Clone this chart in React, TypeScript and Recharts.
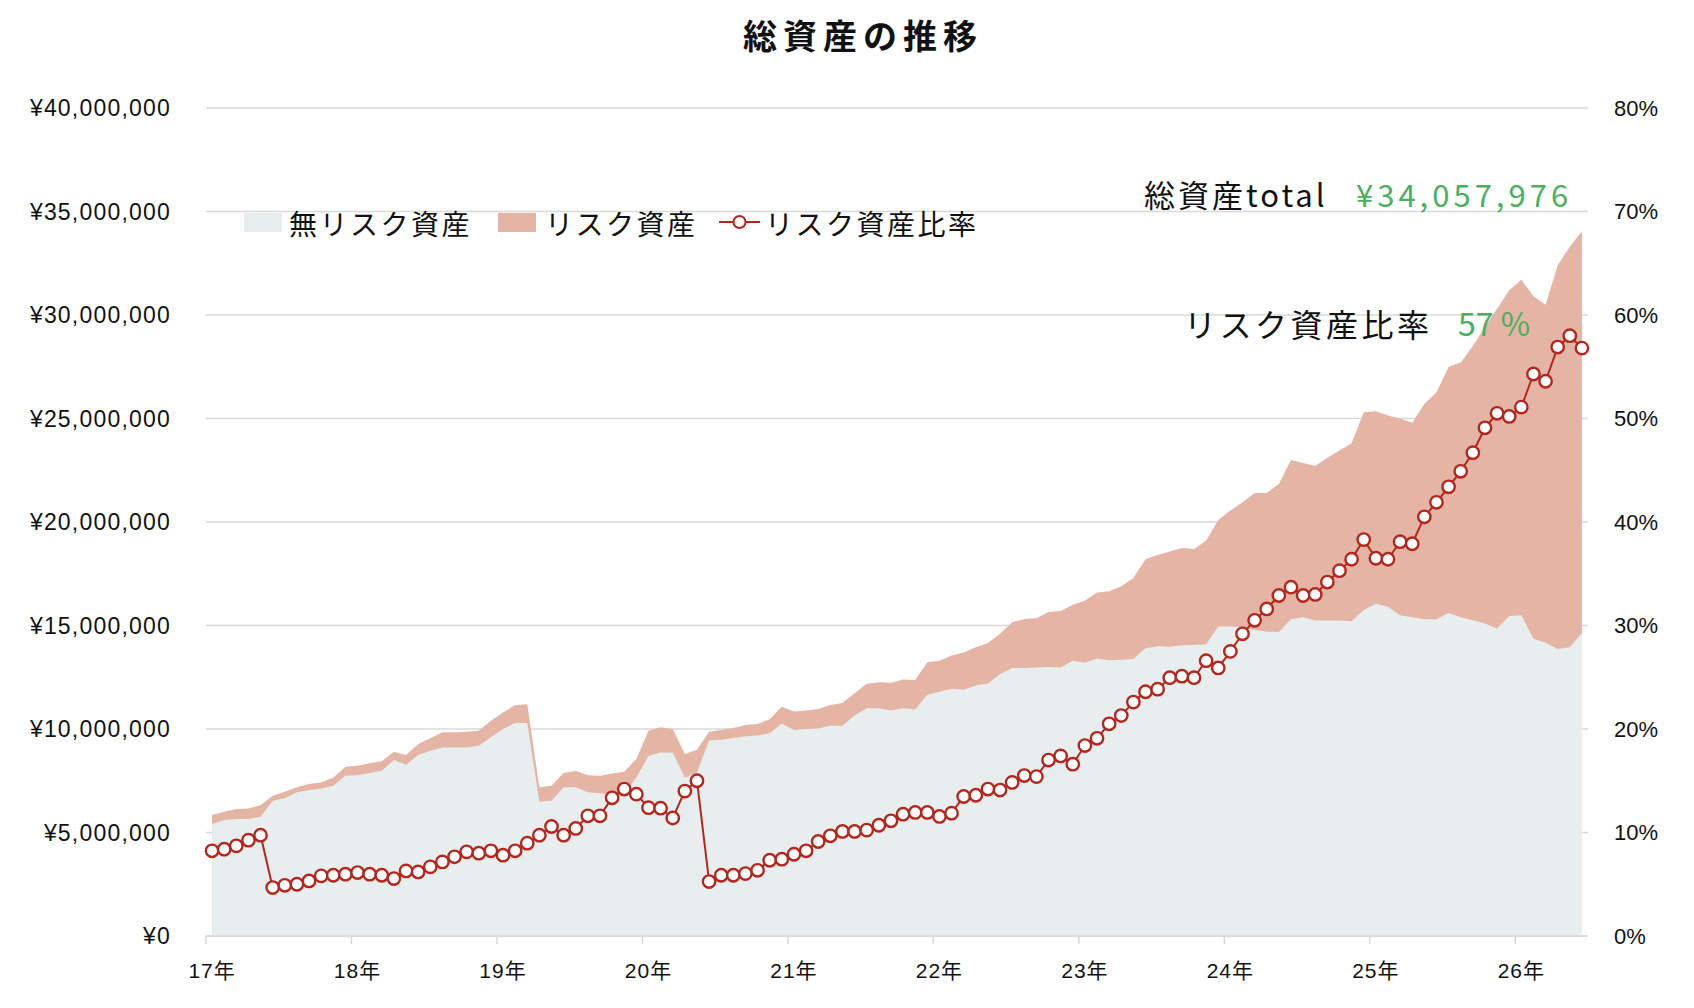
import { ComposedChart, Area, Line, XAxis, YAxis, CartesianGrid } from 'recharts';

// 2017年1月〜2026年6月の月次データ（単位: 百万円 / %）
const totalAssets = [
  5.85, 6.0, 6.13, 6.16, 6.32, 6.77, 6.97, 7.18, 7.34, 7.42, 7.66, 8.18,
  8.23, 8.34, 8.44, 8.9, 8.74, 9.27, 9.55, 9.84, 9.84, 9.87, 9.92, 10.4,
  10.8, 11.16, 11.2, 7.18, 7.26, 7.87, 7.98, 7.77, 7.74, 7.85, 7.94, 8.55,
  9.92, 10.08, 10.0, 8.79, 9.0, 9.87, 9.95, 10.05, 10.19, 10.24, 10.48, 11.08,
  10.84, 10.89, 10.97, 11.16, 11.26, 11.73, 12.18, 12.26, 12.23, 12.39, 12.37, 13.23,
  13.3, 13.55, 13.7, 13.95, 14.16, 14.6, 15.16, 15.32, 15.35, 15.65, 15.7, 16.0,
  16.2, 16.6, 16.65, 16.9, 17.3, 18.2, 18.4, 18.58, 18.74, 18.7, 19.1, 20.1,
  20.55, 20.95, 21.4, 21.4, 21.84, 23.0, 22.85, 22.7, 23.1, 23.45, 23.8, 25.3,
  25.35, 25.14, 25.0, 24.8, 25.7, 26.27, 27.5, 27.7, 28.5, 29.43, 30.3, 31.2,
  31.7, 30.9, 30.5, 32.4, 33.3, 34.06,
];

const safeAssets = [
  5.4, 5.6, 5.65, 5.65, 5.76, 6.53, 6.66, 6.94, 7.05, 7.13, 7.26, 7.74,
  7.77, 7.87, 7.98, 8.5, 8.27, 8.74, 8.95, 9.11, 9.11, 9.11, 9.19, 9.6,
  10.0, 10.29, 10.29, 6.48, 6.53, 7.18, 7.18, 6.94, 6.9, 6.85, 6.9, 7.66,
  8.7, 8.87, 8.87, 7.66, 7.9, 9.44, 9.48, 9.56, 9.65, 9.68, 9.8, 10.27,
  9.95, 10.0, 10.03, 10.16, 10.16, 10.65, 11.0, 11.0, 10.89, 11.0, 10.94, 11.65,
  11.8, 11.95, 11.9, 12.1, 12.2, 12.66, 12.94, 12.95, 12.97, 13.0, 12.97, 13.3,
  13.2, 13.4, 13.32, 13.34, 13.38, 13.9, 14.0, 13.97, 14.05, 14.06, 14.1, 14.95,
  14.95, 14.9, 14.8, 14.7, 14.68, 15.3, 15.4, 15.24, 15.24, 15.24, 15.2, 15.75,
  16.05, 15.9, 15.5, 15.4, 15.3, 15.3, 15.6, 15.4, 15.25, 15.1, 14.85, 15.46,
  15.5, 14.36, 14.17, 13.87, 13.95, 14.65,
];

const riskRatio = [
  8.23, 8.39, 8.71, 9.26, 9.74, 4.68, 4.9, 5.0, 5.32, 5.81, 5.87, 5.97,
  6.13, 5.97, 5.87, 5.55, 6.29, 6.19, 6.68, 7.16, 7.65, 8.13, 8.0, 8.23,
  7.81, 8.23, 8.97, 9.74, 10.58, 9.74, 10.39, 11.61, 11.61, 13.35, 14.2, 13.7,
  12.4, 12.35, 11.4, 14.0, 15.0, 5.26, 5.87, 5.87, 6.03, 6.35, 7.32, 7.42,
  7.9, 8.23, 9.13, 9.68, 10.1, 10.1, 10.23, 10.7, 11.13, 11.77, 11.94, 11.94,
  11.55, 11.87, 13.48, 13.6, 14.2, 14.1, 14.84, 15.5, 15.4, 17.0, 17.4, 16.6,
  18.4, 19.1, 20.5, 21.3, 22.6, 23.6, 23.85, 24.95, 25.1, 24.95, 26.6, 25.9,
  27.5, 29.2, 30.5, 31.6, 32.9, 33.7, 32.9, 33.0, 34.2, 35.3, 36.4, 38.3,
  36.5, 36.4, 38.1, 37.9, 40.5, 41.9, 43.4, 44.9, 46.7, 49.1, 50.5, 50.2,
  51.1, 54.3, 53.6, 56.9, 58.0, 56.8,
];

const yearLabels = ['17年', '18年', '19年', '20年', '21年', '22年', '23年', '24年', '25年', '26年'];
const yenTicks = [0, 5, 10, 15, 20, 25, 30, 35, 40];
const pctTicks = [0, 10, 20, 30, 40, 50, 60, 70, 80];

const CHART_W = 1694;
const CHART_H = 1008;
const LEFT_W = 206;
const RIGHT_W = 106;
const HALF_BAND = (CHART_W - LEFT_W - RIGHT_W) / totalAssets.length / 2;

const FONT = '"Noto Sans CJK JP", "Noto Sans", sans-serif';
const TICK_FONT = '"Liberation Sans", "Noto Sans CJK JP", sans-serif';
const SAFE_COLOR = '#e8eeed';
const RISK_COLOR = '#e4b5a5';
const LINE_COLOR = '#b3261e';
const GREEN = '#4cae60';
const GRID = '#d9d9d9';
const TEXT = '#111';

const data = totalAssets.map((total, i) => ({
  i,
  total,
  safe: safeAssets[i],
  ratio: riskRatio[i],
}));

function YearTick({ x, y, payload }: { x?: number; y?: number; payload?: { value: number } }) {
  if (x == null || y == null || !payload) return null;
  const label = yearLabels[Math.round(payload.value / 12)];
  return (
    <g>
      <line x1={x - HALF_BAND} x2={x - HALF_BAND} y1={y} y2={y + 8} stroke={GRID} strokeWidth={1.5} />
      <text x={x} y={y + 42} textAnchor="middle" fontSize={21} letterSpacing={1} fill={TEXT} fontFamily={TICK_FONT}>
        {label}
      </text>
    </g>
  );
}

function Overlay() {
  return (
    <svg
      width={CHART_W}
      height={CHART_H}
      style={{ position: 'absolute', left: 0, top: 0, pointerEvents: 'none' }}
      fontFamily={FONT}
    >
      <text x={743} y={49} fontSize={34} fontWeight={700} letterSpacing={6} fill={TEXT}>
        総資産の推移
      </text>

      {/* legend */}
      <rect x={244} y={213} width={38} height={19} fill={SAFE_COLOR} />
      <text x={289} y={235} fontSize={28} letterSpacing={2.5} fill={TEXT}>無リスク資産</text>
      <rect x={498} y={213} width={38} height={19} fill={RISK_COLOR} />
      <text x={545} y={235} fontSize={28} letterSpacing={2.5} fill={TEXT}>リスク資産</text>
      <line x1={719} x2={760} y1={222} y2={222} stroke={LINE_COLOR} strokeWidth={2} />
      <circle cx={739.5} cy={222} r={6} fill="#fff" stroke={LINE_COLOR} strokeWidth={2} />
      <text x={765} y={235} fontSize={28} letterSpacing={2.5} fill={TEXT}>リスク資産比率</text>

      {/* annotations */}
      <text x={1144} y={207} fontSize={31} letterSpacing={3} fill={TEXT}>総資産total</text>
      <text x={1356} y={207} fontSize={31} letterSpacing={4} fill={GREEN}>¥34,057,976</text>
      <text x={1184} y={337} fontSize={32} letterSpacing={3.5} fill={TEXT}>リスク資産比率</text>
      <text x={1458} y={336} fontSize={32} fill={GREEN}>57 %</text>
    </svg>
  );
}

export default function App() {
  return (
    <div style={{ position: 'absolute', left: 0, top: 0, width: CHART_W, height: CHART_H, background: '#fff' }}>
      <ComposedChart
        width={CHART_W}
        height={CHART_H}
        data={data}
        margin={{ top: 108, right: 0, bottom: 0, left: 0 }}
      >
        <CartesianGrid vertical={false} stroke={GRID} strokeWidth={1.5} yAxisId="yen" />
        <XAxis
          dataKey="i"
          type="number"
          domain={[-0.5, totalAssets.length - 0.5]}
          ticks={yearLabels.map((_, k) => k * 12)}
          interval={0}
          height={72}
          tickSize={0}
          tickMargin={0}
          tickLine={false}
          axisLine={{ stroke: GRID, strokeWidth: 1.5 }}
          tick={<YearTick />}
        />
        <YAxis
          yAxisId="yen"
          orientation="left"
          width={LEFT_W}
          domain={[0, 40]}
          ticks={yenTicks}
          interval={0}
          axisLine={false}
          tickLine={false}
          tickSize={0}
          tickMargin={35}
          tick={{ fontSize: 23, fill: TEXT, fontFamily: TICK_FONT, letterSpacing: 1.2 }}
          tickFormatter={(v: number) => `¥${(v * 1000000).toLocaleString('en-US')}`}
        />
        <YAxis
          yAxisId="pct"
          orientation="right"
          width={RIGHT_W}
          domain={[0, 80]}
          ticks={pctTicks}
          interval={0}
          axisLine={false}
          tickLine={false}
          tickSize={0}
          tickMargin={26}
          tick={{ fontSize: 22, fill: TEXT, fontFamily: TICK_FONT, textAnchor: 'start' }}
          tickFormatter={(v: number) => `${v}%`}
        />
        <Area
          yAxisId="yen"
          type="linear"
          dataKey="total"
          fill={RISK_COLOR}
          fillOpacity={1}
          stroke="none"
          dot={false}
          activeDot={false}
          isAnimationActive={false}
        />
        <Area
          yAxisId="yen"
          type="linear"
          dataKey="safe"
          fill={SAFE_COLOR}
          fillOpacity={1}
          stroke="none"
          dot={false}
          activeDot={false}
          isAnimationActive={false}
        />
        <Line
          yAxisId="pct"
          type="linear"
          dataKey="ratio"
          stroke={LINE_COLOR}
          strokeWidth={2}
          dot={{ r: 6.2, fill: '#fff', stroke: LINE_COLOR, strokeWidth: 2.4 }}
          activeDot={false}
          isAnimationActive={false}
        />
      </ComposedChart>
      <Overlay />
    </div>
  );
}
